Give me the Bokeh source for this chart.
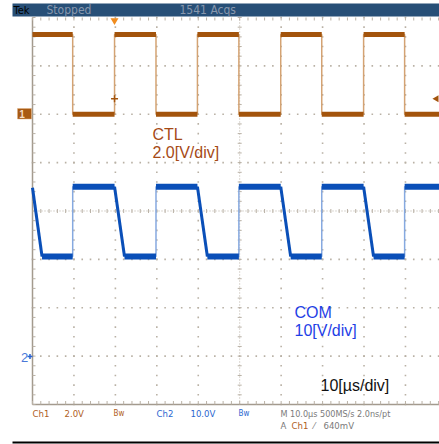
import numpy as np
from bokeh.plotting import figure
from bokeh.models import Range1d
from bokeh.core.properties import value
from bokeh.embed import file_html
from bokeh.resources import INLINE

# ---------------- data (time in microseconds, volts) ----------------
ctl_t = [0.0, 9.7, 9.7, 19.8, 19.8, 29.8, 29.8, 39.8, 39.8, 49.8, 49.8,
         59.9, 59.9, 69.8, 69.8, 79.9, 79.9, 89.8, 89.8, 98.3]
ctl_v = [3.3, 3.3, 0.0, 0.0, 3.3, 3.3, 0.0, 0.0, 3.3, 3.3, 0.0,
         0.0, 3.3, 3.3, 0.0, 0.0, 3.3, 3.3, 0.0, 0.0]
com_t = [0.0, 2.3, 9.7, 9.7, 19.8, 22.2, 29.8, 29.8, 39.8, 42.2, 49.8,
         49.8, 59.9, 62.3, 69.8, 69.8, 79.9, 82.3, 89.8, 89.8, 98.3]
com_v = [34.8, 20.6, 20.6, 35.0, 35.0, 20.6, 20.6, 35.0, 35.0, 20.6, 20.6,
         35.0, 35.0, 20.6, 20.6, 35.0, 35.0, 20.6, 20.6, 35.0, 35.0]
trigger_time = [19.8]
trigger_level = [0.64]

ch1_label = ["CTL", "2.0[V/div]"]
ch2_label = ["COM", "10[V/div]"]
time_label = ["10[µs/div]"]

# ---------------- figure ----------------
FONT = value("Liberation Sans")
NARROW = value("Liberation Sans Narrow, DejaVu Sans Condensed, sans-serif")
GRID = "#b9b1a5"
EDGE = "#a39a8e"
C1 = "#a3540c"
C1_EDGE = "#d4a373"
C2 = "#0a4fb8"
C2_EDGE = "#86a9e0"

p = figure(width=439, height=444, x_range=Range1d(-7.722, 98.214),
           y_range=Range1d(-4.827, 4.3514), output_backend="svg",
           toolbar_location=None, min_border=0, x_axis_location=None,
           y_axis_location=None, outline_line_color=None)
p.grid.visible = False
p.extra_x_ranges = {"px": Range1d(0, 439)}
p.extra_y_ranges = {"px": Range1d(444, 0),
                    "ch1": Range1d(-13.654, 4.7028),
                    "ch2": Range1d(-18.269, 73.514)}

# ---------------- graticule ----------------
minor_t = np.arange(0, 100.01, 2.0)
minor_d = np.arange(-4, 4.001, 0.2)
hx, hy = [], []
for d in [-3, -2, -1, 1, 2, 3]:
    for t in minor_t:
        hx.append(t); hy.append(d)
for t in [10, 20, 30, 40, 60, 70, 80, 90]:
    for d in minor_d:
        hx.append(t); hy.append(d)
p.scatter(hx, hy, marker="square", size=1.6, fill_color=GRID, line_color=None)

# center lines
p.segment(x0=[0], y0=[0], x1=[100], y1=[0], line_color=GRID, line_width=1, line_dash="1 2")
p.segment(x0=[50], y0=[-4], x1=[50], y1=[4], line_color=GRID, line_width=1, line_dash="1 2")
p.segment(x0=minor_t, y0=[208.5] * len(minor_t), x1=minor_t, y1=[212.5] * len(minor_t),
          y_range_name="px", line_color=GRID, line_width=1)
p.segment(x0=[237.2] * len(minor_d), y0=minor_d, x1=[241.2] * len(minor_d), y1=minor_d,
          x_range_name="px", line_color=GRID, line_width=1)

# border lines and ticks
p.segment(x0=[0], y0=[-4], x1=[0], y1=[4], line_color=EDGE, line_width=1.5)
p.segment(x0=[0], y0=[-4], x1=[100], y1=[-4], line_color=EDGE, line_width=1.5)
p.segment(x0=[32] * len(minor_d), y0=minor_d, x1=[35] * len(minor_d), y1=minor_d,
          x_range_name="px", line_color=GRID, line_width=1)
p.segment(x0=minor_t, y0=[404] * len(minor_t), x1=minor_t, y1=[400.5] * len(minor_t),
          y_range_name="px", line_color=GRID, line_width=1)
p.segment(x0=minor_t, y0=[17] * len(minor_t), x1=minor_t, y1=[20] * len(minor_t),
          y_range_name="px", line_color=GRID, line_width=1)

# ---------------- traces ----------------
def split(ts, vs):
    lv = {"x0": [], "y0": [], "x1": [], "y1": []}
    for i in range(len(ts) - 1):
        if ts[i + 1] != ts[i]:
            lv["x0"].append(ts[i]); lv["y0"].append(vs[i])
            lv["x1"].append(ts[i + 1]); lv["y1"].append(vs[i + 1])
    return lv

p.line(ctl_t, ctl_v, y_range_name="ch1", line_color=C1_EDGE, line_width=1.5)
s1 = split(ctl_t, ctl_v)
p.segment(y_range_name="ch1", line_color=C1, line_width=5, **s1)

p.line(com_t, com_v, y_range_name="ch2", line_color=C2_EDGE, line_width=1.5)
s2 = split(com_t, com_v)
flat = {k: [] for k in s2}
ramp = {k: [] for k in s2}
for i in range(len(s2["x0"])):
    tgt = flat if s2["y0"][i] == s2["y1"][i] else ramp
    for k in s2:
        tgt[k].append(s2[k][i])
p.segment(y_range_name="ch2", line_color=C2, line_width=6, **flat)
p.segment(y_range_name="ch2", line_color=C2, line_width=3, **ramp)

# trigger markers
p.scatter(trigger_time, trigger_level, y_range_name="ch1", marker="cross",
          size=7, line_color=C1, line_width=1.5)
p.scatter([114], [20], x_range_name="px", y_range_name="px", marker="inverted_triangle",
          size=8, fill_color="#f08c1e", line_color=None)
p.scatter([436], trigger_level, x_range_name="px", y_range_name="ch1", marker="triangle",
          angle=np.pi / 2, size=7, fill_color=C1, line_color=None)

# channel ground markers
p.quad(left=[17], right=[31], top=[108], bottom=[118.5], x_range_name="px",
       y_range_name="px", fill_color="#a85a12", line_color="#e0b080", line_width=0.5)
p.text(x=[21.5], y=[113.5], text=["1"], x_range_name="px", y_range_name="px",
       text_font=FONT, text_font_size="10px", text_color="#f3dcc4",
       text_align="center", text_baseline="middle", text_font_style="bold")
p.text(x=[24], y=[356.5], text=["2"], x_range_name="px", y_range_name="px",
       text_font=FONT, text_font_size="13px", text_color="#4a78d8",
       text_align="center", text_baseline="middle")
p.scatter([29.5], [356], x_range_name="px", y_range_name="px", marker="cross",
          size=5, line_color="#2a62d0", line_width=1.5)

# ---------------- header bar ----------------
p.quad(left=[12], right=[439], top=[3], bottom=[16], x_range_name="px",
       y_range_name="px", fill_color="#274f77", line_color=None)
p.text(x=[13], y=[9.5], text=["Tek"], x_range_name="px", y_range_name="px",
       text_font=NARROW, text_font_size="11px", text_color="#000000",
       text_baseline="middle")
p.text(x=[46, 179], y=[9.5, 9.5], text=["Stopped", "1541 Acqs"], x_range_name="px",
       y_range_name="px", text_font=NARROW, text_font_size="12px",
       text_color="#8797ad", text_baseline="middle")

# ---------------- labels ----------------
p.text(x=[152, 152], y=[133.5, 152], text=ch1_label, x_range_name="px", y_range_name="px",
       text_font=FONT, text_font_size="16px", text_color="#a64a16",
       text_baseline="alphabetic")
p.text(x=[294, 294], y=[311.5, 330], text=ch2_label, x_range_name="px", y_range_name="px",
       text_font=FONT, text_font_size="16px", text_color="#1f3fe6",
       text_baseline="alphabetic")
p.text(x=[320], y=[385], text=time_label, x_range_name="px", y_range_name="px",
       text_font=FONT, text_font_size="16px", text_color="#111111",
       text_baseline="alphabetic")

# ---------------- status line ----------------
def status(xs, y, texts, color, size="9.5px"):
    p.text(x=xs, y=[y] * len(xs), text=texts, x_range_name="px", y_range_name="px",
           text_font=NARROW, text_font_size=size, text_color=color,
           text_baseline="middle")

status([32, 64], 413, ["Ch1", "2.0V"], "#b0601c")
status([113], 413, ["Bw"], "#b0601c", "8px")
status([156, 190], 413, ["Ch2", "10.0V"], "#2a66d0")
status([238], 413, ["Bw"], "#2a66d0", "8px")
status([280], 413, ["M 10.0µs 500MS/s 2.0ns/pt"], "#7a7a7a", "9px")
status([280, 313, 323], 424.5, ["A", "⁄", "640mV"], "#7a7a7a")
status([291], 424.5, ["Ch1"], "#b0601c")

p.segment(x0=[12], y0=[442], x1=[439], y1=[442], x_range_name="px", y_range_name="px",
          line_color="#000000", line_width=2)

open("out.html", "w").write(file_html(p, INLINE))
